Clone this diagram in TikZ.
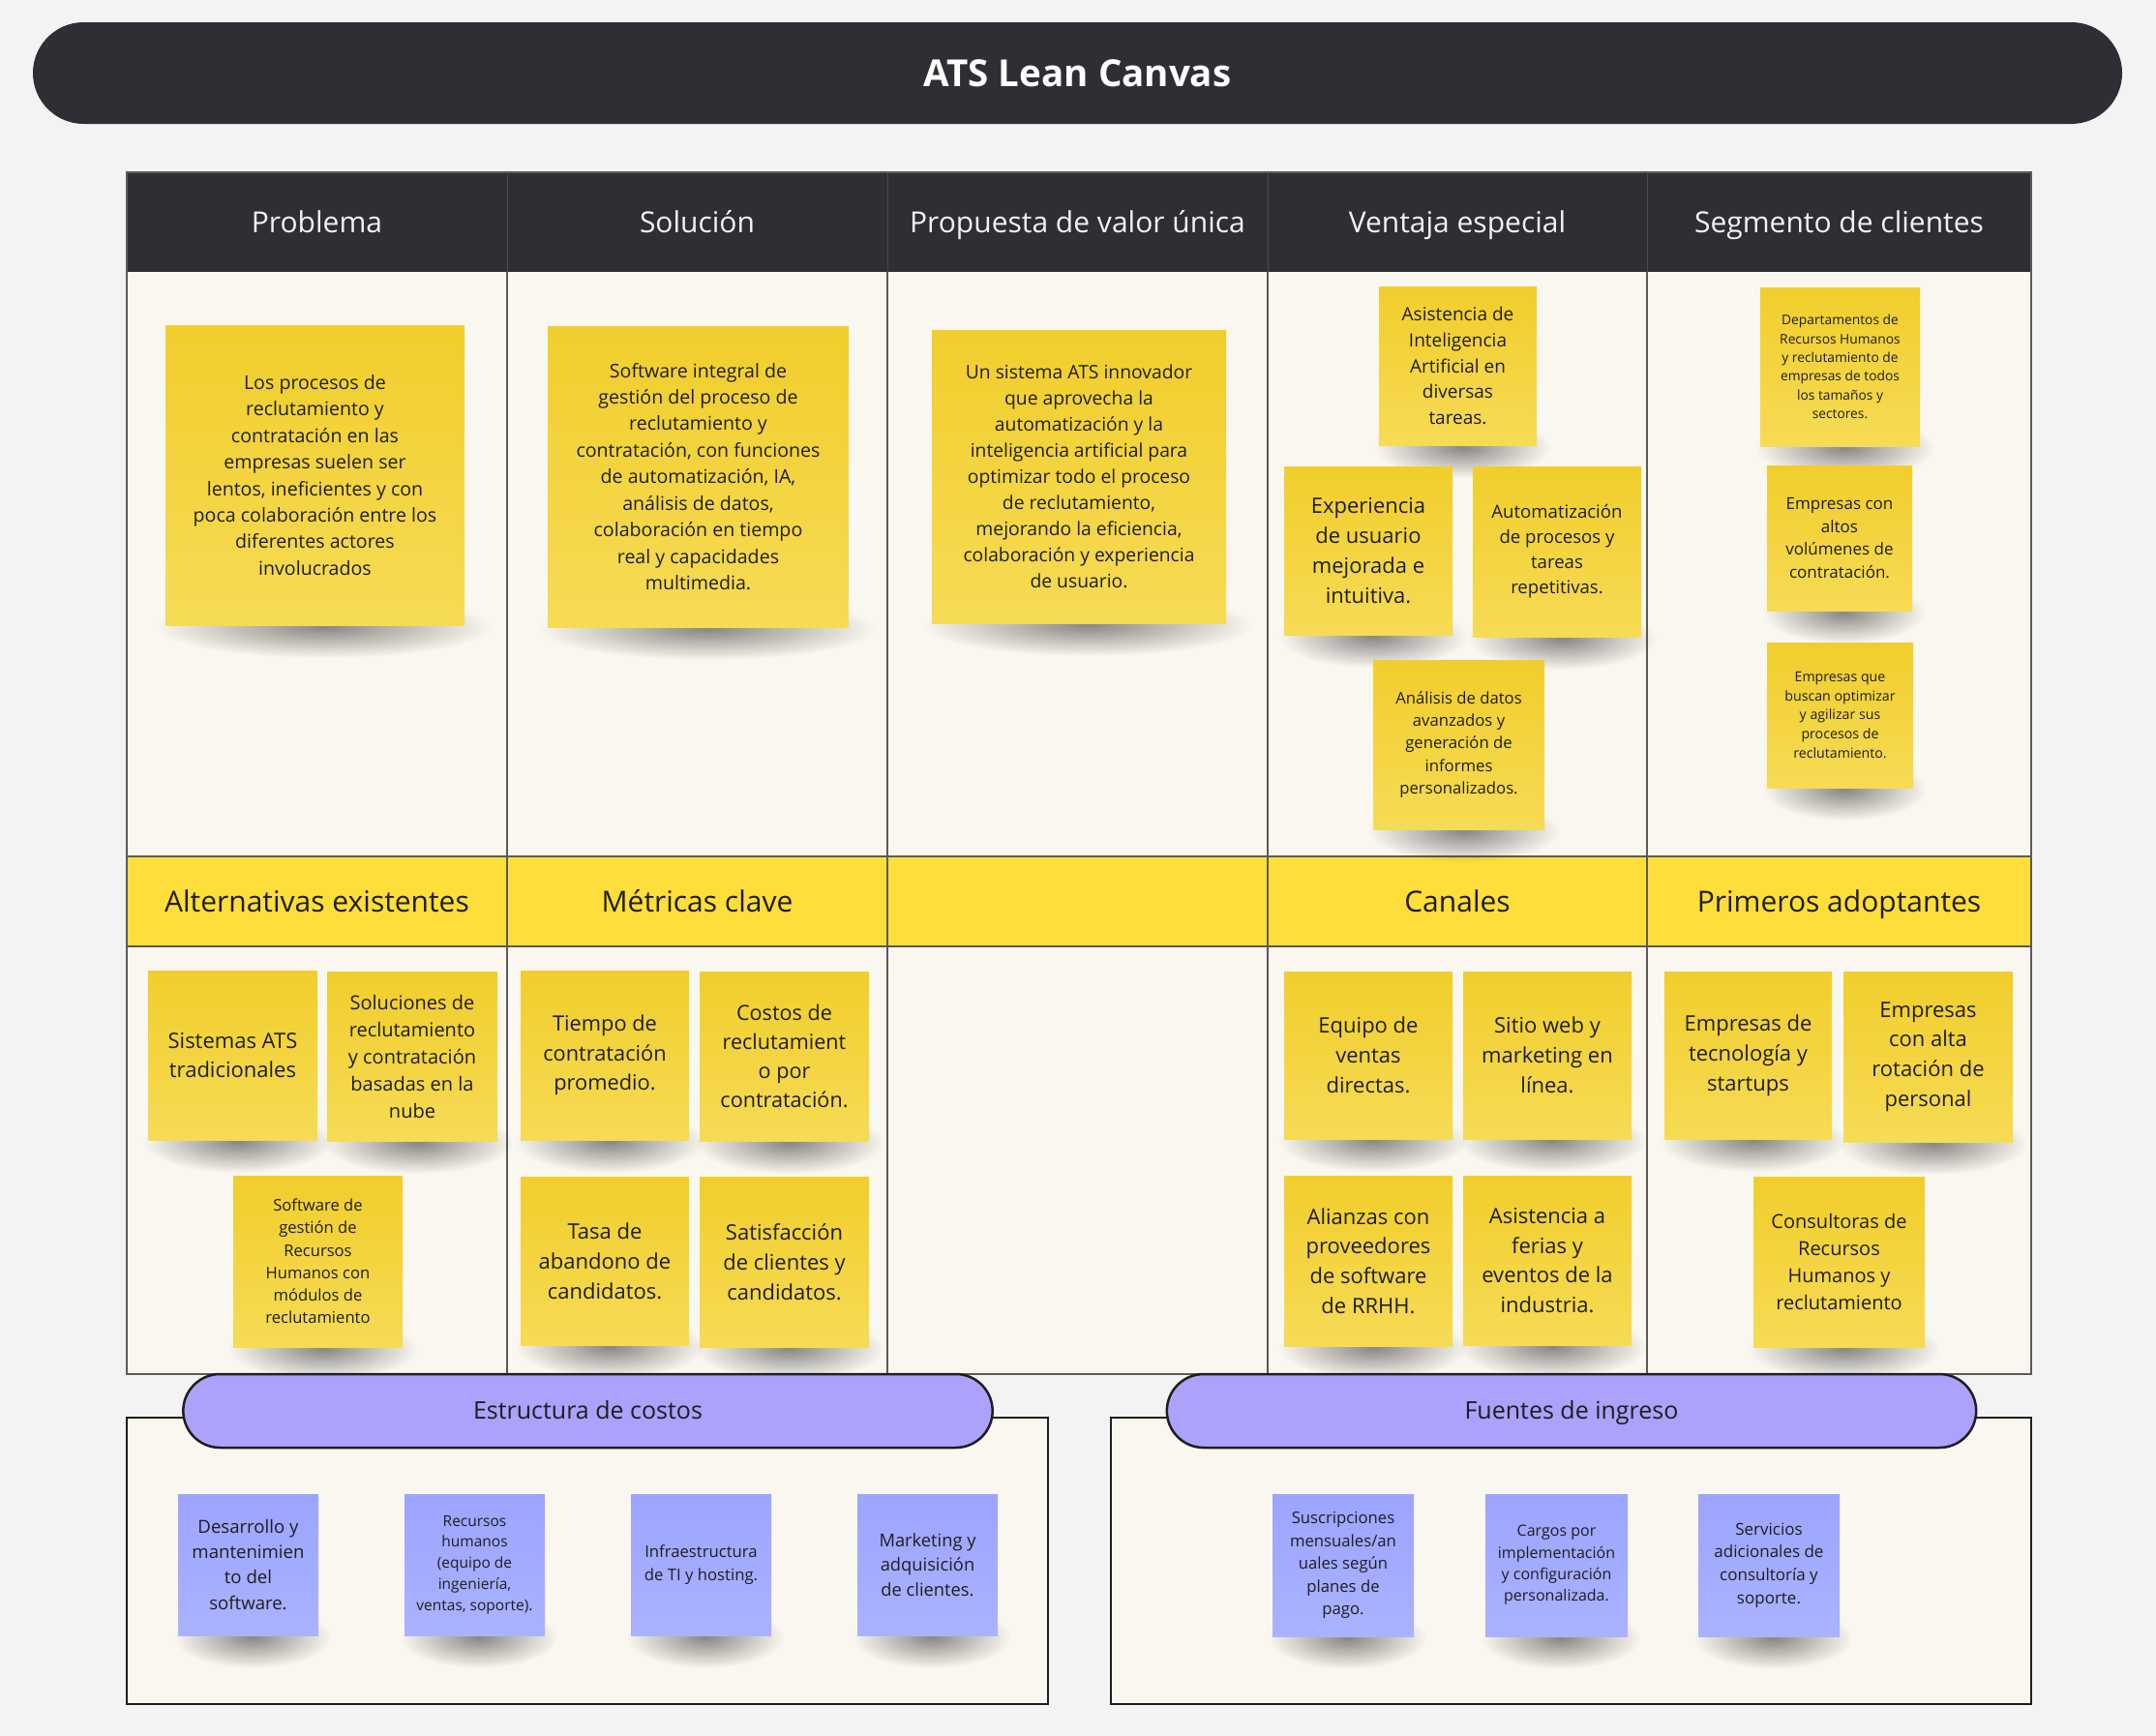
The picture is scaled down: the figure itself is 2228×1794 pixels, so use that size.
\documentclass[tikz,border=0pt]{standalone}
\usepackage{fontspec}
\setmainfont{Open Sans}
\usetikzlibrary{shapes.misc,fadings}

\definecolor{bg}{HTML}{F3F3F3}
\definecolor{cream}{HTML}{FAF7F0}
\definecolor{dark}{HTML}{2E2F35}
\definecolor{rowyel}{HTML}{FEDE3A}
\definecolor{stickyA}{HTML}{F1CE2C}
\definecolor{stickyB}{HTML}{F6DB55}
\definecolor{purpA}{HTML}{9CA4FF}
\definecolor{purpB}{HTML}{AAB2FF}
\definecolor{pillc}{HTML}{AAA2FB}
\definecolor{ink}{HTML}{1E1E1E}
\definecolor{gridc}{HTML}{5A5A5A}

\tikzfading[name=shfade, inner color=transparent!0, outer color=transparent!100]

\newcommand{\stickynote}[8]{%
  \fill[black, fill opacity=0.45, path fading=shfade]
    ({(#3+#5)/2+0.03*(#5-#3)},{#6+2}) ellipse [x radius={0.56*(#5-#3)*1pt}, y radius=32pt];
  \node[#2, minimum width={(#5-#3)*1pt}, minimum height={(#6-#4)*1pt},
        font=\fontsize{#7pt}{\dimexpr#7pt*14/10\relax}\selectfont]
    (#1) at ({(#3+#5)/2},{(#4+#6)/2}) {#8};}

\begin{document}
\begin{tikzpicture}[x=1pt,y=-1pt,
  yellownote/.style={rectangle, inner sep=0pt, align=center, text=ink, top color=stickyA, bottom color=stickyB},
  purplenote/.style={rectangle, inner sep=0pt, align=center, text=ink, top color=purpA, bottom color=purpB},
  hdr/.style={text=white!95!black, font=\fontsize{30pt}{36pt}\selectfont, text height=21.4pt, text depth=0pt},
  yhdr/.style={text=ink, font=\fontsize{30pt}{36pt}\selectfont, text height=21.4pt, text depth=0pt},
  pillnode/.style={rounded rectangle, draw=ink, line width=2.5pt, fill=pillc, minimum width=843pt, minimum height=76pt, text=ink, font=\fontsize{25pt}{30pt}\selectfont, text height=17.8pt, text depth=0pt},
  gridline/.style={draw=gridc, line width=1.5pt},
  boxline/.style={draw=ink, line width=2.5pt, fill=cream}
]
\useasboundingbox (0,0) rectangle (2228,1794);
\fill[bg] (0,0) rectangle (2228,1794);

% title
\node[rounded rectangle, fill=dark, minimum width=2159pt, minimum height=105pt, inner sep=0pt,
      text=white, font=\bfseries\fontsize{38.5pt}{46pt}\selectfont, text height=27.5pt, text depth=0pt] (title) at (1113.5,75.5) {ATS Lean Canvas};

% canvas grid
\fill[cream] (131,281) rectangle (2099,1420);
\fill[dark] (131,178) rectangle (2099,281);
\fill[rowyel] (131,885) rectangle (2099,978);
\foreach \cx in {524,917,1310,1702} {
  \draw[gridline] (\cx,281) -- (\cx,1420);
  \draw[black!70, line width=1pt] (\cx,178) -- (\cx,281);
}
\draw[gridline] (131,885) -- (2099,885);
\draw[gridline] (131,978) -- (2099,978);
\draw[gridline] (131,178) rectangle (2099,1420);

% headers
\node[hdr] (hProb) at (327.5,229.5) {Problema};
\node[hdr] (hSol) at (720.5,229.5) {Solución};
\node[hdr] (hProp) at (1113.5,229.5) {Propuesta de valor única};
\node[hdr] (hVent) at (1506,229.5) {Ventaja especial};
\node[hdr] (hSeg) at (1900.5,229.5) {Segmento de clientes};

\node[yhdr] (hAlt) at (327.5,931.5) {Alternativas existentes};
\node[yhdr] (hMet) at (720.5,931.5) {Métricas clave};
\node[yhdr] (hCan) at (1506,931.5) {Canales};
\node[yhdr] (hPrim) at (1900.5,931.5) {Primeros adoptantes};

% top body notes
\stickynote{pProb}{yellownote}{171}{336}{480}{646}{19.6}{Los procesos de\\reclutamiento y\\contratación en las\\empresas suelen ser\\lentos, ineficientes y con\\poca colaboración entre los\\diferentes actores\\involucrados}
\stickynote{pSol}{yellownote}{566}{337}{877}{648}{19.6}{Software integral de\\gestión del proceso de\\reclutamiento y\\contratación, con funciones\\de automatización, IA,\\análisis de datos,\\colaboración en tiempo\\real y capacidades\\multimedia.}
\stickynote{pProp}{yellownote}{963}{341}{1267}{644}{19.3}{Un sistema ATS innovador\\que aprovecha la\\automatización y la\\inteligencia artificial para\\optimizar todo el proceso\\de reclutamiento,\\mejorando la eficiencia,\\colaboración y experiencia\\de usuario.}
\stickynote{vIA}{yellownote}{1425}{296}{1588}{460}{19}{Asistencia de\\Inteligencia\\Artificial en\\diversas\\tareas.}
\stickynote{vExp}{yellownote}{1327}{482}{1501}{656}{22}{Experiencia\\de usuario\\mejorada e\\intuitiva.}
\stickynote{vAuto}{yellownote}{1522}{482}{1696}{658}{18.6}{Automatización\\de procesos y\\tareas\\repetitivas.}
\stickynote{vAnal}{yellownote}{1419}{682}{1596}{857}{16.7}{Análisis de datos\\avanzados y\\generación de\\informes\\personalizados.}
\stickynote{sDep}{yellownote}{1819}{297}{1984}{461}{13.8}{Departamentos de\\Recursos Humanos\\y reclutamiento de\\empresas de todos\\los tamaños y\\sectores.}
\stickynote{sAltos}{yellownote}{1826}{481}{1976}{631}{17}{Empresas con\\altos\\volúmenes de\\contratación.}
\stickynote{sBusc}{yellownote}{1826}{664}{1977}{814}{14.2}{Empresas que\\buscan optimizar\\y agilizar sus\\procesos de\\reclutamiento.}

% lower body notes
\stickynote{aSis}{yellownote}{153}{1003}{328}{1178}{22}{Sistemas ATS\\tradicionales}
\stickynote{aSol}{yellownote}{338}{1004}{514}{1179}{20}{Soluciones de\\reclutamiento\\y contratación\\basadas en la\\nube}
\stickynote{aSoft}{yellownote}{241}{1215}{416}{1392}{16.6}{Software de\\gestión de\\Recursos\\Humanos con\\módulos de\\reclutamiento}
\stickynote{mTiem}{yellownote}{538}{1003}{712}{1178}{21.8}{Tiempo de\\contratación\\promedio.}
\stickynote{mCost}{yellownote}{723}{1004}{898}{1179}{21.6}{Costos de\\reclutamient\\o por\\contratación.}
\stickynote{mTasa}{yellownote}{538}{1216}{712}{1390}{22}{Tasa de\\abandono de\\candidatos.}
\stickynote{mSat}{yellownote}{723}{1216}{898}{1392}{22}{Satisfacción\\de clientes y\\candidatos.}
\stickynote{cEq}{yellownote}{1327}{1004}{1501}{1177}{22}{Equipo de\\ventas\\directas.}
\stickynote{cSit}{yellownote}{1512}{1004}{1686}{1177}{22}{Sitio web y\\marketing en\\línea.}
\stickynote{cAli}{yellownote}{1327}{1215}{1501}{1391}{22}{Alianzas con\\proveedores\\de software\\de RRHH.}
\stickynote{cFer}{yellownote}{1512}{1215}{1686}{1390}{22}{Asistencia a\\ferias y\\eventos de la\\industria.}
\stickynote{eTec}{yellownote}{1720}{1004}{1893}{1177}{22}{Empresas de\\tecnología y\\startups}
\stickynote{eAlta}{yellownote}{1905}{1004}{2080}{1180}{22}{Empresas\\con alta\\rotación de\\personal}
\stickynote{eCons}{yellownote}{1812}{1216}{1989}{1392}{20}{Consultoras de\\Recursos\\Humanos y\\reclutamiento}

% bottom boxes
\draw[boxline] (131,1465) rectangle (1083,1761);
\draw[boxline] (1148,1465) rectangle (2099,1761);
\node[pillnode] (pillCost) at (607.5,1458) {Estructura de costos};
\node[pillnode] (pillRev) at (1624,1458) {Fuentes de ingreso};

\stickynote{kDes}{purplenote}{184}{1544}{329}{1690}{18.6}{Desarrollo y\\mantenimien\\to del\\software.}
\stickynote{kRec}{purplenote}{418}{1544}{563}{1690}{15.5}{Recursos\\humanos\\(equipo de\\ingeniería,\\ventas, soporte).}
\stickynote{kInf}{purplenote}{652}{1544}{797}{1690}{16.7}{Infraestructura\\de TI y hosting.}
\stickynote{kMar}{purplenote}{886}{1544}{1031}{1690}{18.3}{Marketing y\\adquisición\\de clientes.}
\stickynote{rSus}{purplenote}{1315}{1544}{1461}{1691}{16.7}{Suscripciones\\mensuales/an\\uales según\\planes de\\pago.}
\stickynote{rCar}{purplenote}{1535}{1544}{1682}{1691}{16}{Cargos por\\implementación\\y configuración\\personalizada.}
\stickynote{rSer}{purplenote}{1755}{1544}{1901}{1691}{17}{Servicios\\adicionales de\\consultoría y\\soporte.}
\end{tikzpicture}
\end{document}
